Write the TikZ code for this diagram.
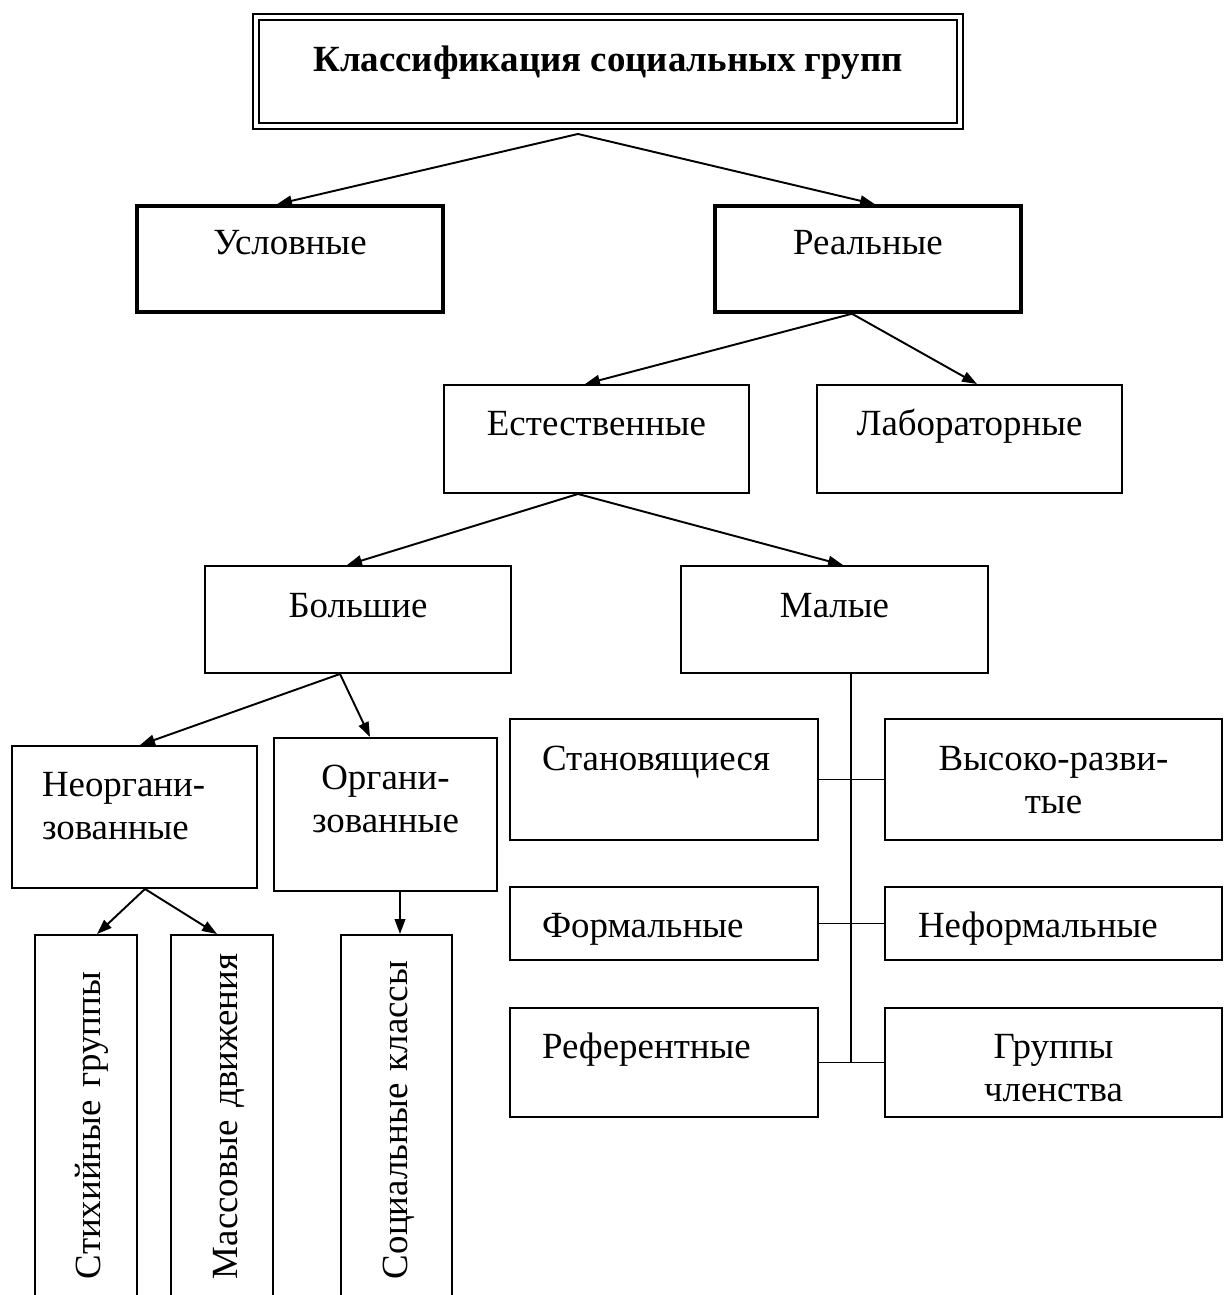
\documentclass[tikz,border=0pt]{standalone}
\usepackage{fontspec}
\setmainfont{Liberation Serif}
\usetikzlibrary{arrows.meta,calc}

\begin{document}
\begin{tikzpicture}[
  font=\fontsize{21}{24.5}\selectfont,
  box/.style={draw,line width=1.1pt,inner ysep=0pt,inner xsep=0.1cm,align=center},
  main/.style={box,line width=2pt},
  lbox/.style={box,align=left},
  vert/.style={box,rotate=90,align=left,inner xsep=0.82cm,text width=6.06cm},
  flow/.style={-{Triangle[length=8.5pt,width=6pt]},line width=1.1pt},
  link/.style={line width=0.8pt},
]
\useasboundingbox (0,0) rectangle (24.48,-25.9);

% ---------- TITLE ----------
\node[box,double,double distance=2.3pt,minimum width=14.08cm,text height=1.10cm,text depth=1.08cm,font=\fontsize{21}{24.5}\selectfont\bfseries]
  (title) at (12.16,-1.43) {Классификация социальных групп};

% ---------- LEVEL 1 ----------
\node[main,minimum width=6.12cm,text height=0.98cm,text depth=1.14cm] (usl) at (5.80,-5.18) {Условные};
\node[main,minimum width=6.12cm,text height=0.98cm,text depth=1.14cm] (real) at (17.36,-5.18) {Реальные};

% ---------- LEVEL 2 ----------
\node[box,minimum width=6.10cm,text height=1.00cm,text depth=1.16cm] (est) at (11.93,-8.78) {Естественные};
\node[box,minimum width=6.10cm,text height=1.00cm,text depth=1.16cm] (lab) at (19.39,-8.78) {Лабораторные};

% ---------- LEVEL 3 ----------
\node[box,minimum width=6.12cm,text height=1.02cm,text depth=1.12cm] (bol) at (7.16,-12.39) {Большие};
\node[box,minimum width=6.14cm,text height=1.02cm,text depth=1.12cm] (mal) at (16.69,-12.39) {Малые};

% ---------- LARGE GROUPS ----------
\node[lbox,inner xsep=0.6cm,text width=3.70cm,text height=1.00cm,text depth=1.84cm] (neorg) at (2.69,-16.34)
  {Неоргани-\\зованные};
\node[box,text width=4.26cm,text height=1.02cm,text depth=2.04cm] (org) at (7.71,-16.29)
  {Органи-\\зованные};

% bottom of these boxes lies below the page edge
\node[vert,text height=1.30cm,text depth=0.74cm] (stix) at (1.72,-22.55) {Стихийные~группы};
\node[vert,text height=1.32cm,text depth=0.72cm] (mass) at (4.44,-22.55) {Массовые~движения};
\node[vert,text height=1.32cm,text depth=0.90cm] (soc) at (7.93,-22.55) {Социальные~классы};

% ---------- SMALL GROUPS ----------
\node[lbox,inner xsep=0.64cm,text width=4.88cm,text height=1.02cm,text depth=1.40cm] (stan) at (13.28,-15.59) {Становящиеся};
\node[box,text width=6.54cm,text height=1.02cm,text depth=1.40cm] (vys) at (21.07,-15.59) {Высоко-разви-\\тые};
\node[lbox,inner xsep=0.64cm,text width=4.88cm,text height=1.00cm,text depth=0.46cm] (form) at (13.28,-18.47) {Формальные};
\node[lbox,inner xsep=0.66cm,text width=5.42cm,text height=1.00cm,text depth=0.46cm] (nef) at (21.07,-18.47) {Неформальные};
\node[lbox,inner xsep=0.64cm,text width=4.88cm,text height=1.00cm,text depth=1.18cm] (ref) at (13.28,-21.25) {Референтные};
\node[box,text width=6.54cm,text height=1.00cm,text depth=1.18cm] (chl) at (21.07,-21.25) {Группы\\членства};

% ---------- ARROWS ----------
\draw[flow] ([xshift=-0.6cm,yshift=-0.14cm]title.south) -- ([xshift=-0.26cm]usl.north);
\draw[flow] ([xshift=-0.6cm,yshift=-0.14cm]title.south) -- ([xshift=0.14cm]real.north);
\draw[flow] ([xshift=-0.32cm]real.south) -- ([xshift=-0.23cm]est.north);
\draw[flow] ([xshift=-0.32cm]real.south) -- ([xshift=0.15cm]lab.north);
\draw[flow] ([xshift=-0.37cm]est.south) -- ([xshift=-0.22cm]bol.north);
\draw[flow] ([xshift=-0.37cm]est.south) -- ([xshift=0.17cm]mal.north);
\draw[flow] ([xshift=-0.36cm]bol.south) -- ([xshift=0.11cm]neorg.north);
\draw[flow] ([xshift=-0.36cm]bol.south) -- ([xshift=-0.31cm]org.north);
\draw[flow] ([xshift=0.21cm]neorg.south) -- ([xshift=0.22cm]stix.east);
\draw[flow] ([xshift=0.21cm]neorg.south) -- ([xshift=-0.1cm]mass.east);
\draw[flow] ([xshift=0.29cm]org.south) -- ([xshift=0.07cm]soc.east);

% ---------- SMALL GROUP LINKS ----------
\draw[link] ([xshift=0.33cm]mal.south) -- ([xshift=0.33cm]mal.south |- ref.east);
\draw[link] (stan) -- (vys);
\draw[link] (form) -- (nef);
\draw[link] (ref) -- (chl);

\end{tikzpicture}
\end{document}
